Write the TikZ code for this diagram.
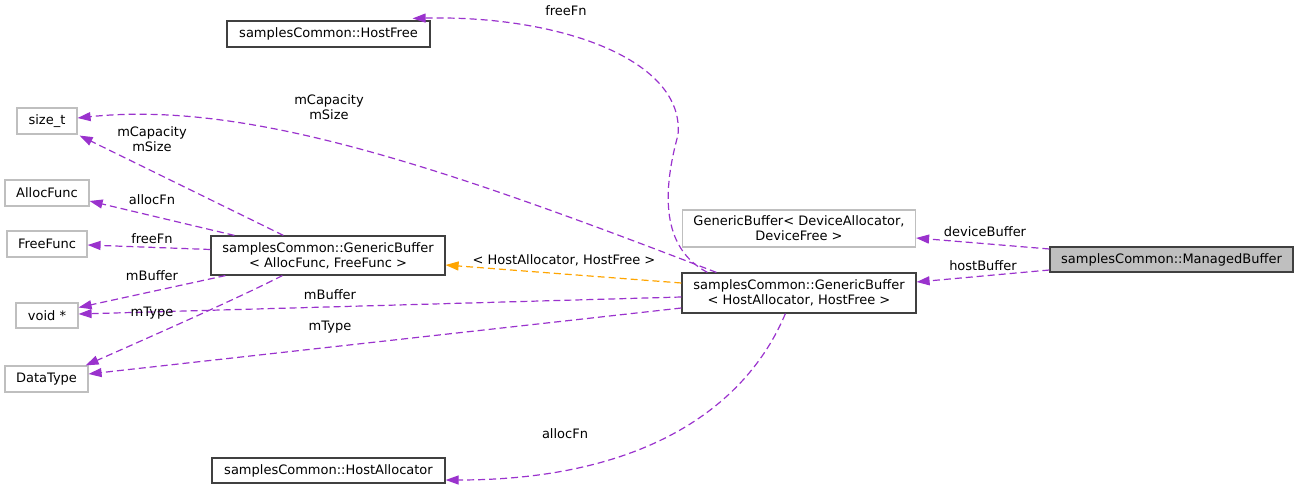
\documentclass[tikz,border=0pt]{standalone}
\usepackage{fontspec}
\setmainfont{DejaVu Sans}
\usetikzlibrary{arrows.meta,calc}
\definecolor{edgec}{RGB}{154,50,205}
\definecolor{orangec}{RGB}{255,165,0}
\definecolor{grayb}{RGB}{191,191,191}
\definecolor{darkb}{RGB}{64,64,64}
\begin{document}
\begin{tikzpicture}[x=1pt,y=-1pt,
  font=\fontsize{13}{15}\selectfont,
  box/.style={draw=darkb,line width=1.2pt,inner sep=0pt,align=center,fill=white},
  gbox/.style={draw=grayb,line width=1.2pt,inner sep=0pt,align=center,fill=white},
  rel/.style={draw=edgec,line width=1.2pt,dash pattern=on 7pt off 4pt,-{Triangle[length=13pt,width=9pt]}},
  inh/.style={draw=orangec,line width=1.2pt,dash pattern=on 7pt off 4pt,-{Triangle[length=13pt,width=9pt]}},
  lbl/.style={inner sep=0pt,align=center}]
\useasboundingbox (0,0) rectangle (1299,489);
% nodes
\node[box,fill={rgb,255:red,191;green,191;blue,191},minimum width=243pt,minimum height=25pt] (mb) at (1171.5,259.5) {samplesCommon::ManagedBuffer};
\node[gbox,minimum width=233pt,minimum height=37pt] (dev) at (799,228.5) {GenericBuffer< DeviceAllocator,\\DeviceFree >};
\node[box,minimum width=234pt,minimum height=40pt] (hgb) at (799,293) {samplesCommon::GenericBuffer\\< HostAllocator, HostFree >};
\node[box,minimum width=234pt,minimum height=39pt] (agb) at (328,255.5) {samplesCommon::GenericBuffer\\< AllocFunc, FreeFunc >};
\node[box,minimum width=203pt,minimum height=26pt] (hf) at (328.5,34) {samplesCommon::HostFree};
\node[box,minimum width=233pt,minimum height=25pt] (ha) at (328.5,470.5) {samplesCommon::HostAllocator};
\node[gbox,minimum width=60pt,minimum height=26pt] (st) at (47,121) {size\_t};
\node[gbox,minimum width=84pt,minimum height=26pt] (af) at (47,193) {AllocFunc};
\node[gbox,minimum width=80pt,minimum height=26pt] (ff) at (47,244) {FreeFunc};
\node[gbox,minimum width=62pt,minimum height=25pt] (vp) at (47,315.5) {void *};
\node[gbox,minimum width=83pt,minimum height=26pt] (dt) at (46.5,379) {DataType};
% edges from ManagedBuffer
\draw[rel] ($(mb.west)+(0,-10.5)$) -- ($(dev.east)+(0,9.5)$);
\node[lbl] (l1) at (985,232) {deviceBuffer};
\draw[rel] ($(mb.west)+(0,10.5)$) -- ($(hgb.east)+(0,-11)$);
\node[lbl] (l2) at (983,266) {hostBuffer};
% edges from Host GenericBuffer
\draw[inh] ($(hgb.west)+(0,-10)$) -- ($(agb.east)+(0,9.5)$);
\node[lbl] (l3) at (564,260) {< HostAllocator, HostFree >};
\draw[rel] ($(hgb.north west)+(26,0)$) .. controls (665,250) and (660,200) .. (678,135)
  .. controls (685,60) and (560,15) .. ($(hf.north east)+(-18,-2)$);
\node[lbl] (l4) at (566,11) {freeFn};
\draw[rel] ($(hgb.north west)+(35,0)$) .. controls (450,170) and (250,100) .. ($(st.east)+(0,-3)$);
\node[lbl] (l5) at (329,107) {mCapacity\\mSize};
\draw[rel] ($(hgb.west)+(0,4)$) -- ($(vp.east)+(0,-1.5)$);
\node[lbl] (l6) at (330,295) {mBuffer};
\draw[rel] ($(hgb.west)+(0,15)$) -- ($(dt.east)+(0,-5)$);
\node[lbl] (l7) at (330,327) {mType};
\draw[rel] ($(hgb.south west)+(104,0)$) .. controls (745,410) and (640,480) .. ($(ha.east)+(0,9.5)$);
\node[lbl] (l8) at (565,434) {allocFn};
% edges from Alloc GenericBuffer
\draw[rel] ($(agb.north west)+(73,0)$) -- ($(st.south east)+(2,1)$);
\node[lbl] (l9) at (152,139) {mCapacity\\mSize};
\draw[rel] ($(agb.north west)+(24,0)$) -- ($(af.east)+(0,8)$);
\node[lbl] (l10) at (152,200) {allocFn};
\draw[rel] ($(agb.west)+(0,-6)$) -- ($(ff.east)+(0,1)$);
\node[lbl] (l11) at (152,239) {freeFn};
\draw[rel] ($(agb.south west)+(15,0)$) -- ($(vp.east)+(0,-8)$);
\node[lbl] (l12) at (152,276) {mBuffer};
\draw[rel] ($(agb.south west)+(72,0)$) .. controls (250,292) and (200,315) .. ($(dt.north east)+(-3,0)$);
\node[lbl] (l13) at (152,313) {mType};
\end{tikzpicture}
\end{document}
